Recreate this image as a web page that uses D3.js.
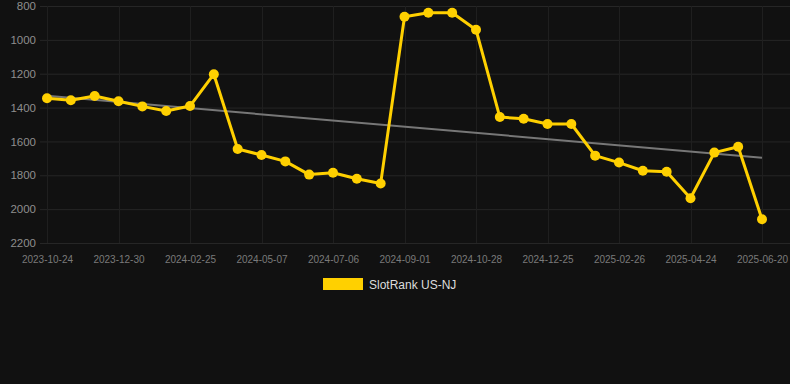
<!DOCTYPE html>
<html>
<head>
<meta charset="utf-8">
<script src="https://cdn.jsdelivr.net/npm/d3@7"></script>
<style>
  html, body { margin: 0; padding: 0; background: #111111; }
  svg { display: block; }
</style>
</head>
<body>
<svg id="chart" width="790" height="384"></svg>
<script>
const dates = [
  "2023-10-24","2023-11-15","2023-12-08","2023-12-30","2024-01-18","2024-02-06",
  "2024-02-25","2024-03-20","2024-04-13","2024-05-07","2024-05-27","2024-06-16",
  "2024-07-06","2024-07-25","2024-08-13","2024-09-01","2024-09-20","2024-10-09",
  "2024-10-28","2024-11-16","2024-12-05","2024-12-25","2025-01-15","2025-02-05",
  "2025-02-26","2025-03-17","2025-04-05","2025-04-24","2025-05-13","2025-06-01",
  "2025-06-20"
];
const rankValues = [
  1345, 1357, 1332, 1363, 1393, 1420, 1391, 1203, 1645, 1680, 1718, 1796,
  1785, 1820, 1848, 863, 840, 840, 940, 1456, 1466, 1497, 1497, 1684,
  1725, 1773, 1779, 1936, 1666, 1631, 2060
];
const trendValues = [1330, 1696];
const yTicks = [800, 1000, 1200, 1400, 1600, 1800, 2000, 2200];
const seriesName = "SlotRank US-NJ";

const svg = d3.select("#chart");
const plotLeft = 40, plotRight = 790, plotTop = 6, plotBottom = 243;

const x = d3.scalePoint().domain(dates).range([47, 762]);
const y = d3.scaleLinear().domain([800, 2200]).range([plotTop, plotBottom]);

const font = "'Liberation Sans', Arial, Helvetica, sans-serif";

// horizontal grid
svg.append("g").selectAll("line").data(yTicks).join("line")
  .attr("x1", plotLeft).attr("x2", plotRight)
  .attr("y1", d => y(d) + 0.5).attr("y2", d => y(d) + 0.5)
  .attr("stroke", "#262626").attr("stroke-width", 1);

// vertical grid at labelled dates
const labelDates = dates.filter((d, i) => i % 3 === 0);
svg.append("g").selectAll("line").data(labelDates).join("line")
  .attr("x1", d => Math.round(x(d)) + 0.5).attr("x2", d => Math.round(x(d)) + 0.5)
  .attr("y1", plotTop).attr("y2", plotBottom)
  .attr("stroke", "#1f1f1f").attr("stroke-width", 1);

// y axis
const yAxis = svg.append("g").attr("transform", `translate(${plotLeft},0)`)
  .call(d3.axisLeft(y).tickValues(yTicks).tickSize(0).tickPadding(4).tickFormat(d3.format("d")));
yAxis.select(".domain").remove();
yAxis.selectAll("text").attr("fill", "#8e8e8e").style("font-family", font).style("font-size", "11.5px");

// x axis
const xAxis = svg.append("g").attr("transform", `translate(0,${plotBottom})`)
  .call(d3.axisBottom(x).tickValues(labelDates).tickSize(0).tickPadding(13));
xAxis.select(".domain").remove();
xAxis.selectAll("text").attr("fill", "#7a7a7a").style("font-family", font).style("font-size", "10px");

// trend line
svg.append("line")
  .attr("x1", x(dates[0])).attr("y1", y(trendValues[0]))
  .attr("x2", x(dates[dates.length - 1])).attr("y2", y(trendValues[1]))
  .attr("stroke", "#777777").attr("stroke-width", 2);

// series line
const lineGen = d3.line().x((d, i) => x(dates[i])).y(d => y(d));
svg.append("path").datum(rankValues)
  .attr("d", lineGen)
  .attr("fill", "none")
  .attr("stroke", "#FFD000")
  .attr("stroke-width", 3)
  .attr("stroke-linejoin", "round");

svg.append("g").selectAll("circle").data(rankValues).join("circle")
  .attr("cx", (d, i) => x(dates[i]))
  .attr("cy", d => y(d))
  .attr("r", 5)
  .attr("fill", "#FFD000");

// legend
const legend = svg.append("g");
legend.append("rect").attr("x", 323).attr("y", 278).attr("width", 40).attr("height", 12).attr("fill", "#FFD000");
legend.append("text").attr("x", 369).attr("y", 288.5).text(seriesName)
  .attr("fill", "#dddddd").style("font-family", font).style("font-size", "12px");
</script>
</body>
</html>
